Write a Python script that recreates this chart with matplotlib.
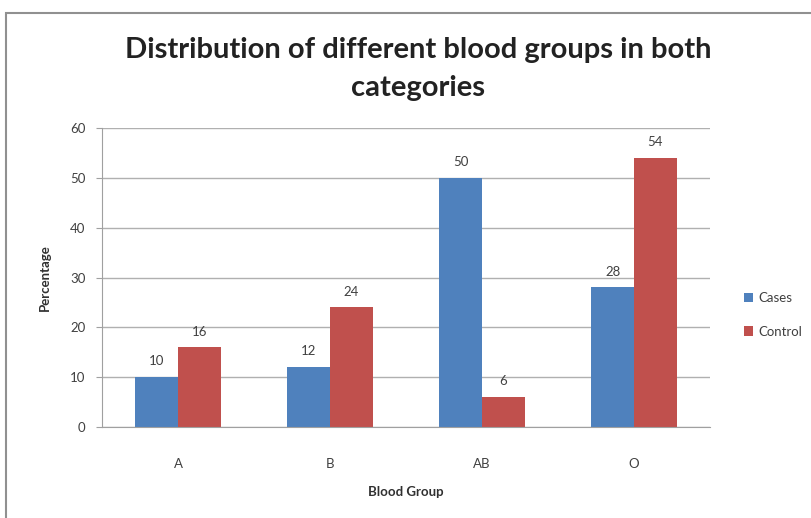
import matplotlib.pyplot as plt
import numpy as np
from matplotlib.patches import Rectangle

groups = ['A', 'B', 'AB', 'O']
cases = [10, 12, 50, 28]
control = [16, 24, 6, 54]

plt.rcParams['font.family'] = ['Lato', 'DejaVu Sans']

fig = plt.figure(figsize=(8.12, 5.18), dpi=100)
W, H = 812, 518
ax = fig.add_axes([102 / W, 1 - 427 / H, (710 - 102) / W, (427 - 128) / H])

x = np.arange(len(groups))
w = 0.28
b1 = ax.bar(x - w / 2, cases, w, color='#4F81BD', label='Cases')
b2 = ax.bar(x + w / 2, control, w, color='#C0504D', label='Control')

for bars in (b1, b2):
    for b in bars:
        ax.annotate(f'{b.get_height():g}', (b.get_x() + b.get_width() / 2, b.get_height()),
                    xytext=(0, 7), textcoords='offset points', ha='center', va='bottom',
                    fontsize=9.5, color='#404040')

ax.set_xlim(-0.5, 3.5)
ax.set_ylim(0, 60)
ax.set_yticks(range(0, 61, 10))
ax.set_xticks(x)
ax.set_xticklabels(groups)
ax.yaxis.grid(True, color='#b0b0b0', linewidth=1)
ax.set_axisbelow(True)
for s in ['top', 'right']:
    ax.spines[s].set_visible(False)
ax.spines['left'].set_color('#a0a0a0')
ax.spines['bottom'].set_color('#a0a0a0')
ax.tick_params(axis='both', colors='#a0a0a0', labelcolor='#404040', labelsize=9.5, length=4)
ax.tick_params(axis='y', pad=8)
ax.tick_params(axis='x', length=0, pad=22)

ax.set_xlabel('Blood Group', fontsize=9.5, fontweight='bold', color='#303030', labelpad=12)
ax.set_ylabel('Percentage', fontsize=9.5, fontweight='bold', color='#303030', labelpad=14)

fig.text(418 / W, 1 - 50 / H, 'Distribution of different blood groups in both',
         ha='center', va='center', fontsize=21, fontweight='bold', color='#222222')
fig.text(418 / W, 1 - 88 / H, 'categories',
         ha='center', va='center', fontsize=21, fontweight='bold', color='#222222')

ax.legend(loc='center left', bbox_to_anchor=(732 / W, 1 - 315 / H), bbox_transform=fig.transFigure,
          frameon=False, fontsize=9.5, handlelength=0.7, handleheight=0.7, handletextpad=0.4,
          labelspacing=1.6, labelcolor='#404040')

fig.patches.append(Rectangle((6 / W, -0.01), 1.0, 1 - 13 / H + 0.01, transform=fig.transFigure,
                             fill=False, edgecolor='#909090', linewidth=1.5))

fig.savefig('out.png', dpi=100)
